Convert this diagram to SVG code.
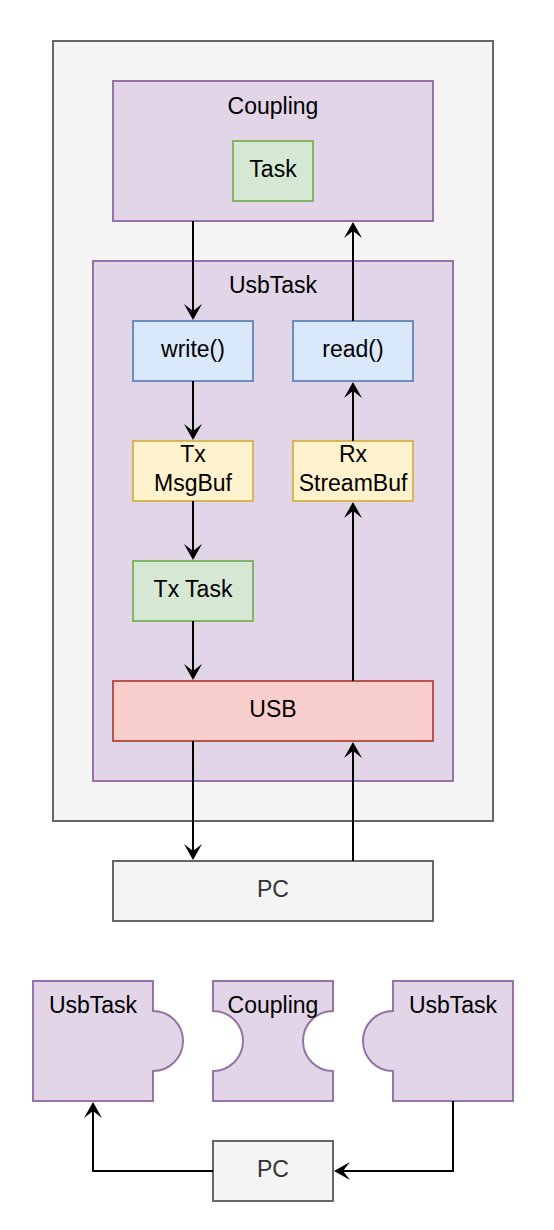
<svg xmlns="http://www.w3.org/2000/svg" width="554" height="1230" viewBox="0 0 554 1230">
<style>
text{font-family:"Liberation Sans",Arial,Helvetica,sans-serif;font-size:23px;fill:#000000;text-anchor:middle}
.gray{fill:#f5f5f5;stroke:#666666;stroke-width:2}
.purple{fill:#e1d5e7;stroke:#9673a6;stroke-width:2}
.green{fill:#d5e8d4;stroke:#82b366;stroke-width:2}
.blue{fill:#dae8fc;stroke:#6c8ebf;stroke-width:2}
.yellow{fill:#fff2cc;stroke:#d6b656;stroke-width:2}
.red{fill:#f8cecc;stroke:#b85450;stroke-width:2}
.pc{fill:#333333}
.edge{fill:none;stroke:#000000;stroke-width:2;marker-end:url(#arrow)}
</style>
<defs>
<marker id="arrow" markerUnits="userSpaceOnUse" viewBox="-10 -10 20 20" markerWidth="20" markerHeight="20" refX="0" refY="0" orient="auto">
<path d="M9,0 L-7,-9 L0,0 L-7,9 Z" fill="#000000"/>
</marker>
</defs>
<rect width="554" height="1230" fill="#ffffff"/>
<g id="container"><rect class="gray" x="53" y="41" width="440" height="780"/></g>
<g id="coupling"><rect class="purple" x="113" y="81" width="320" height="140"/><text x="273" y="114">Coupling</text></g>
<g id="task"><rect class="green" x="233" y="141" width="80" height="60"/><text x="273" y="177">Task</text></g>
<g id="usbtask"><rect class="purple" x="93" y="261" width="360" height="520"/><text x="273" y="293">UsbTask</text></g>
<g id="write"><rect class="blue" x="133" y="321" width="120" height="60"/><text x="193" y="357">write()</text></g>
<g id="read"><rect class="blue" x="293" y="321" width="120" height="60"/><text x="353" y="357">read()</text></g>
<g id="txmsgbuf"><rect class="yellow" x="133" y="441" width="120" height="60"/><text x="193" y="462">Tx</text><text x="193" y="491">MsgBuf</text></g>
<g id="rxstreambuf"><rect class="yellow" x="293" y="441" width="120" height="60"/><text x="353" y="462">Rx</text><text x="353" y="491">StreamBuf</text></g>
<g id="txtask"><rect class="green" x="133" y="561" width="120" height="60"/><text x="193" y="597">Tx Task</text></g>
<g id="usb"><rect class="red" x="113" y="681" width="320" height="60"/><text x="273" y="717">USB</text></g>
<g id="pc"><rect class="gray" x="113" y="861" width="320" height="60"/><text class="pc" x="273" y="897">PC</text></g>
<g id="usbtask-left"><path class="purple" d="M33,981 H153 V1011 A30,30 0 0 1 153,1071 V1101 H33 Z"/><text x="93" y="1013">UsbTask</text></g>
<g id="coupling-piece"><path class="purple" d="M213,981 H333 V1011 A30,30 0 0 0 333,1071 V1101 H213 V1071 A30,30 0 0 0 213,1011 Z"/><text x="273" y="1013">Coupling</text></g>
<g id="usbtask-right"><path class="purple" d="M393,981 H513 V1101 H393 V1071 A30,30 0 0 1 393,1011 Z"/><text x="453" y="1013">UsbTask</text></g>
<g id="pc2"><rect class="gray" x="213" y="1141" width="120" height="60"/><text class="pc" x="273" y="1177">PC</text></g>
<g id="connectors">
<path class="edge" d="M193,221 V311"/>
<path class="edge" d="M193,381 V431"/>
<path class="edge" d="M193,501 V551"/>
<path class="edge" d="M193,621 V671"/>
<path class="edge" d="M193,741 V851"/>
<path class="edge" d="M353,861 V751"/>
<path class="edge" d="M353,681 V511"/>
<path class="edge" d="M353,441 V391"/>
<path class="edge" d="M353,321 V231"/>
<path class="edge" d="M453,1101 V1171 H343"/>
<path class="edge" d="M213,1171 H93 V1111"/>
</g>
</svg>
